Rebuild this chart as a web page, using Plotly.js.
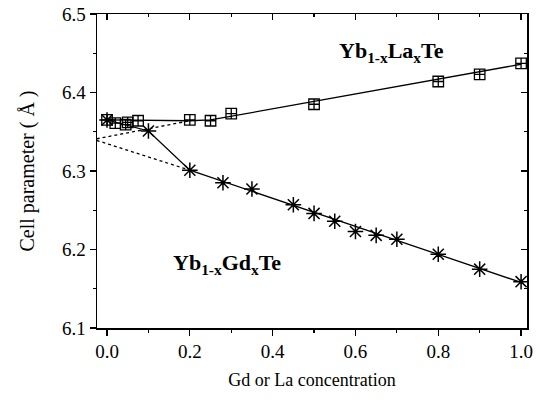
<!DOCTYPE html>
<html>
<head>
<meta charset="utf-8">
<script src="https://cdn.plot.ly/plotly-3.0.1.min.js"></script>
<style>html,body{margin:0;padding:0;background:#fff;font-family:'Liberation Serif',serif;}#chart{width:540px;height:400px;}</style>
</head>
<body>
<div id="chart"></div>
<script>
// Yb1-xLaxTe measured points
const laX = [0.0, 0.02, 0.045, 0.05, 0.075, 0.2, 0.25, 0.3, 0.5, 0.8, 0.9, 1.0];
const laY = [6.365, 6.361, 6.359, 6.362, 6.364, 6.365, 6.364, 6.373, 6.385, 6.414, 6.423, 6.437];
// Yb1-xGdxTe measured points
const gdX = [0.0, 0.1, 0.2, 0.28, 0.35, 0.45, 0.5, 0.55, 0.6, 0.65, 0.7, 0.8, 0.9, 1.0];
const gdY = [6.365, 6.351, 6.301, 6.285, 6.277, 6.257, 6.246, 6.236, 6.223, 6.218, 6.213, 6.194, 6.175, 6.159];
// solid guide lines
const laLineX = [0.0, 0.2, 0.25, 1.0];
const laLineY = [6.365, 6.364, 6.365, 6.436];
const gdLineX = [0.0, 0.1, 0.2, 1.0];
const gdLineY = [6.365, 6.351, 6.301, 6.158];
// dotted extrapolations
const dotUpX = [-0.025, 0.2];
const dotUpY = [6.341, 6.364];
const dotLoX = [-0.025, 0.2];
const dotLoY = [6.339, 6.301];
// ticks
const xTicks = [0, 0.2, 0.4, 0.6, 0.8, 1.0];
const xTickText = ['0.0', '0.2', '0.4', '0.6', '0.8', '1.0'];
const yTicks = [6.1, 6.2, 6.3, 6.4, 6.5];
const yTickText = ['6.1', '6.2', '6.3', '6.4', '6.5'];

const FONT = 'Liberation Serif';
const xRange = [-0.0242, 1.0143];
const yRange = [6.1, 6.5];

const traces = [
  {x: dotUpX, y: dotUpY, mode: 'lines', line: {color: '#000', width: 1.3, dash: 'dot'}, hoverinfo: 'skip'},
  {x: dotLoX, y: dotLoY, mode: 'lines', line: {color: '#000', width: 1.3, dash: 'dot'}, hoverinfo: 'skip'},
  {x: laLineX, y: laLineY, mode: 'lines', line: {color: '#000', width: 1.3}},
  {x: gdLineX, y: gdLineY, mode: 'lines', line: {color: '#000', width: 1.3}},
  {x: laX, y: laY, mode: 'markers', marker: {symbol: 'square-cross-open', size: 10.5, color: '#000', line: {width: 1.3, color: '#000'}}},
  {x: gdX, y: gdY, mode: 'markers', marker: {symbol: 'asterisk-open', size: 13, color: '#000', line: {width: 1.5, color: '#000'}}},
  {x: [xRange[0]], y: [yRange[0]], xaxis: 'x2', yaxis: 'y2', mode: 'markers', marker: {opacity: 0}, hoverinfo: 'skip'}
];

const layout = {
  width: 540, height: 400,
  margin: {l: 97, r: 13, t: 14, b: 72},
  paper_bgcolor: '#fff', plot_bgcolor: '#fff',
  showlegend: false,
  font: {family: FONT, color: '#000', size: 16},
  xaxis: {
    range: xRange, tickvals: xTicks, ticktext: xTickText,
    ticks: 'outside', ticklen: 6, tickwidth: 1.2, tickcolor: '#000',
    minor: {dtick: 0.1, tick0: 0, ticks: 'outside', ticklen: 3, tickcolor: '#000'},
    showgrid: false, zeroline: false, showline: true, linecolor: '#000', linewidth: 1.5,
    tickfont: {family: FONT, size: 19},
    title: {text: 'Gd or La concentration', font: {family: FONT, size: 18}, standoff: 12}
  },
  yaxis: {
    range: yRange, tickvals: yTicks, ticktext: yTickText,
    ticks: 'outside', ticklen: 6, tickwidth: 1.2, tickcolor: '#000',
    minor: {dtick: 0.05, tick0: 6.1, ticks: 'outside', ticklen: 3, tickcolor: '#000'},
    showgrid: false, zeroline: false, showline: true, linecolor: '#000', linewidth: 1.5,
    tickfont: {family: FONT, size: 19},
    title: {text: 'Cell parameter ( Å )', font: {family: FONT, size: 20}, standoff: 22}
  },
  xaxis2: {
    overlaying: 'x', side: 'top', range: xRange, tickvals: xTicks, showticklabels: false,
    ticks: 'inside', ticklen: 6, tickwidth: 1.2, tickcolor: '#000',
    minor: {dtick: 0.1, tick0: 0, ticks: 'inside', ticklen: 3, tickcolor: '#000'},
    showgrid: false, zeroline: false, showline: true, linecolor: '#000', linewidth: 1.5
  },
  yaxis2: {
    overlaying: 'y', side: 'right', range: yRange, tickvals: yTicks, showticklabels: false,
    ticks: 'inside', ticklen: 6, tickwidth: 1.2, tickcolor: '#000',
    minor: {dtick: 0.05, tick0: 6.1, ticks: 'inside', ticklen: 3, tickcolor: '#000'},
    showgrid: false, zeroline: false, showline: true, linecolor: '#000', linewidth: 1.5
  },
  annotations: [
    {x: 0.688, y: 6.452, xref: 'x', yref: 'y', showarrow: false,
     text: '<b>Yb<sub>1-x</sub>La<sub>x</sub>Te</b>', font: {family: FONT, size: 22, color: '#000'}},
    {x: 0.29, y: 6.181, xref: 'x', yref: 'y', showarrow: false,
     text: '<b>Yb<sub>1-x</sub>Gd<sub>x</sub>Te</b>', font: {family: FONT, size: 22, color: '#000'}}
  ]
};

Plotly.newPlot('chart', traces, layout, {displayModeBar: false, staticPlot: true});
</script>
</body>
</html>
